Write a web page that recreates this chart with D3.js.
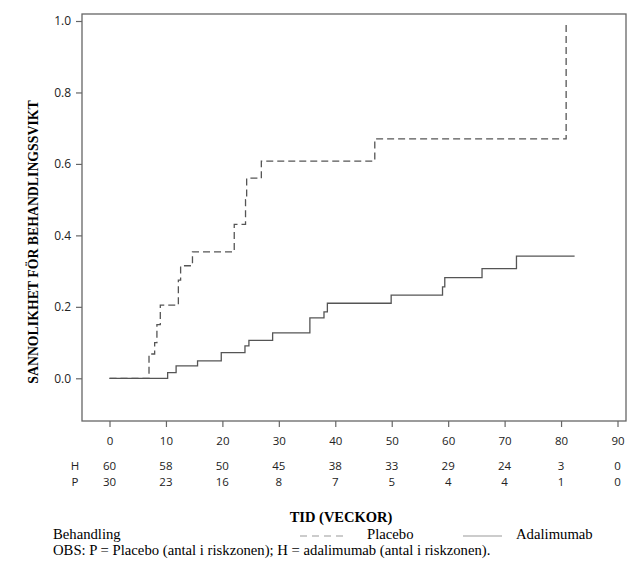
<!DOCTYPE html>
<html>
<head>
<meta charset="utf-8">
<script src="https://cdn.jsdelivr.net/npm/d3@7"></script>
<style>
  html, body { margin: 0; padding: 0; background: #fff; }
</style>
</head>
<body>
<div id="chart"></div>
<script>
// Kaplan-Meier steps: [weeks, probability]
const placebo = [
  [0, 0], [7.0, 0.068], [8.0, 0.10], [8.4, 0.15], [9.0, 0.205], [12.2, 0.275],
  [12.6, 0.315], [14.7, 0.354], [22.1, 0.431], [24.1, 0.50], [24.3, 0.56],
  [26.9, 0.608], [47.0, 0.67], [80.9, 0.99]
];
const placeboEnd = 80.9;

const adalimumab = [
  [0, 0], [10.3, 0.016], [11.8, 0.035], [15.6, 0.049], [19.8, 0.072],
  [24.0, 0.091], [24.7, 0.106], [28.9, 0.127], [35.5, 0.169], [38.0, 0.186],
  [38.6, 0.21], [49.9, 0.233], [59.0, 0.256], [59.4, 0.282], [66.0, 0.307],
  [72.1, 0.342]
];
const adalimumabEnd = 82.4;

const xTicks = [0, 10, 20, 30, 40, 50, 60, 70, 80, 90];
const yTicks = [0, 0.2, 0.4, 0.6, 0.8, 1.0];
const riskH = [60, 58, 50, 45, 38, 33, 29, 24, 3, 0];
const riskP = [30, 23, 16, 8, 7, 5, 4, 4, 1, 0];

const width = 642, height = 562;
const frame = { left: 82, right: 626, top: 14, bottom: 421 };
const sans = "'Open Sans', 'Noto Sans', sans-serif";
const serif = "'Liberation Serif', 'Times New Roman', serif";
const lineColor = "#555";

const svg = d3.select("#chart").append("svg")
    .attr("width", width)
    .attr("height", height);

const x = d3.scaleLinear().domain([0, 90]).range([109.5, 617.5]);
const y = d3.scaleLinear().domain([0, 1]).range([378.3, 21]);

// Frame
svg.append("rect")
    .attr("x", frame.left)
    .attr("y", frame.top)
    .attr("width", frame.right - frame.left)
    .attr("height", frame.bottom - frame.top)
    .attr("fill", "none")
    .attr("stroke", "#666")
    .attr("stroke-width", 1.3);

// Y axis
const yAxis = svg.append("g")
    .attr("transform", `translate(${frame.left},0)`)
    .call(d3.axisLeft(y).tickValues(yTicks).tickSize(6).tickPadding(5).tickFormat(d3.format(".1f")));
yAxis.select(".domain").remove();
yAxis.selectAll(".tick line").attr("stroke", "#666").attr("stroke-width", 1.2);
yAxis.selectAll(".tick text")
    .style("font-family", sans).style("font-size", "12px").attr("fill", "#222");

// X axis (below the frame)
const xAxis = svg.append("g")
    .attr("transform", `translate(0,${frame.bottom})`)
    .call(d3.axisBottom(x).tickValues(xTicks).tickSize(6).tickPadding(10));
xAxis.select(".domain").remove();
xAxis.selectAll(".tick line").attr("stroke", "#666").attr("stroke-width", 1.2);
xAxis.selectAll(".tick text")
    .style("font-family", sans).style("font-size", "11.5px").attr("fill", "#222");

// Step curves
function stepPath(data, end) {
    const pts = data.concat([[end, data[data.length - 1][1]]]);
    return d3.line().x(d => x(d[0])).y(d => y(d[1])).curve(d3.curveStepAfter)(pts);
}

svg.append("path")
    .attr("d", stepPath(adalimumab, adalimumabEnd))
    .attr("fill", "none")
    .attr("stroke", lineColor)
    .attr("stroke-width", 1.3);

svg.append("path")
    .attr("d", stepPath(placebo, placeboEnd))
    .attr("fill", "none")
    .attr("stroke", lineColor)
    .attr("stroke-width", 1.3)
    .attr("stroke-dasharray", "7,4");

// Numbers at risk
const riskRows = [{ label: "H", values: riskH, y: 470 }, { label: "P", values: riskP, y: 486 }];
riskRows.forEach(row => {
    svg.append("text")
        .attr("x", 75).attr("y", row.y)
        .attr("text-anchor", "middle")
        .style("font-family", sans).style("font-size", "11.5px").attr("fill", "#222")
        .text(row.label);
    svg.selectAll(null).data(row.values).enter().append("text")
        .attr("x", (d, i) => x(xTicks[i]))
        .attr("y", row.y)
        .attr("text-anchor", "middle")
        .style("font-family", sans).style("font-size", "11.5px").attr("fill", "#222")
        .text(d => d);
});

// Axis titles
svg.append("text")
    .attr("x", 341).attr("y", 522)
    .attr("text-anchor", "middle")
    .style("font-family", serif).style("font-size", "14.5px").style("font-weight", "bold")
    .text("TID (VECKOR)");

svg.append("text")
    .attr("transform", "translate(38,242) rotate(-90)")
    .attr("text-anchor", "middle")
    .style("font-family", serif).style("font-size", "13.8px").style("font-weight", "bold")
    .text("SANNOLIKHET FÖR BEHANDLINGSSVIKT");

// Legend
const legendY = 539;
svg.append("text")
    .attr("x", 53).attr("y", legendY)
    .style("font-family", serif).style("font-size", "14.7px")
    .text("Behandling");

svg.append("line")
    .attr("x1", 300).attr("x2", 343).attr("y1", 536).attr("y2", 536)
    .attr("stroke", "#999").attr("stroke-width", 1.2).attr("stroke-dasharray", "7,5");
svg.append("text")
    .attr("x", 367).attr("y", legendY)
    .style("font-family", serif).style("font-size", "14.7px")
    .text("Placebo");

svg.append("line")
    .attr("x1", 463).attr("x2", 502).attr("y1", 536).attr("y2", 536)
    .attr("stroke", "#999").attr("stroke-width", 1.2);
svg.append("text")
    .attr("x", 516).attr("y", legendY)
    .style("font-family", serif).style("font-size", "14.7px")
    .text("Adalimumab");

svg.append("text")
    .attr("x", 53).attr("y", 555)
    .style("font-family", serif).style("font-size", "14.7px")
    .text("OBS: P = Placebo (antal i riskzonen); H = adalimumab (antal i riskzonen).");
</script>
</body>
</html>
